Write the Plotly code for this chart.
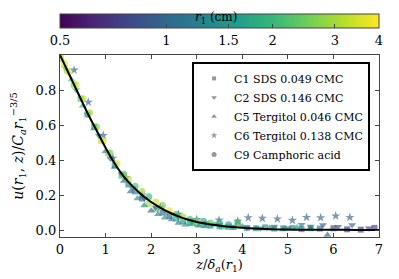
import numpy as np
import plotly.graph_objects as go

# ---------------- data ----------------
curve_z = [0.0, 0.2, 0.4, 0.6, 0.8, 1.0, 1.2, 1.4, 1.6, 1.8, 2.0, 2.2, 2.4, 2.6, 2.8,
           3.0, 3.2, 3.4, 3.6, 3.8, 4.0, 4.5, 5.0, 5.5, 6.0, 6.5, 7.0]
curve_u = [1.0, 0.89, 0.78, 0.67, 0.57, 0.47, 0.38, 0.305, 0.248, 0.2, 0.16, 0.128, 0.1,
           0.078, 0.06, 0.046, 0.036, 0.028, 0.022, 0.017, 0.013, 0.006, 0.003, 0.0015,
           0.001, 0.0005, 0.0]

c1_z = [0.02, 0.15, 0.3, 0.45, 0.6, 0.75, 0.9, 1.05, 1.2, 1.35, 1.5, 1.65, 1.8, 1.95, 2.1,
        2.25, 2.4, 2.55, 2.7, 2.85, 3.0, 3.15, 3.3, 3.5, 3.7, 3.9, 4.1, 4.3, 4.5, 4.7, 4.9,
        5.1, 5.3, 5.5, 5.7, 6.0, 6.3, 6.6, 6.9]
c1_u = [0.99, 0.91, 0.83, 0.75, 0.66, 0.59, 0.51, 0.44, 0.37, 0.31, 0.26, 0.22, 0.18, 0.15,
        0.12, 0.1, 0.08, 0.065, 0.05, 0.04, 0.035, 0.03, 0.025, 0.02, 0.018, 0.03, 0.012,
        0.01, 0.015, 0.008, 0.01, 0.012, 0.005, 0.01, 0.008, 0.01, 0.004, 0.002, 0.012]
c1_r = [3.8, 3.0, 2.6, 2.2, 1.9, 1.6, 3.4, 2.8, 1.4, 2.0, 1.3, 1.2, 1.1, 3.0, 2.5, 1.0, 0.9,
        1.8, 1.5, 1.7, 2.2, 1.4, 1.3, 1.6, 1.9, 2.4, 1.5, 1.7, 1.4, 1.6, 1.3, 1.5, 1.2, 1.8,
        1.1, 0.8, 0.75, 0.7, 0.72]

c2_z = [0.1, 0.35, 0.6, 0.85, 1.1, 1.35, 1.6, 1.85, 2.1, 2.35, 2.6, 2.9, 3.2, 3.5, 3.8, 4.1,
        4.4, 4.7, 5.0, 5.3, 5.5, 5.77, 6.1, 6.41, 6.78]
c2_u = [0.93, 0.8, 0.66, 0.54, 0.41, 0.32, 0.24, 0.18, 0.13, 0.1, 0.075, 0.055, 0.04, 0.03,
        0.02, 0.015, 0.01, 0.02, 0.012, 0.03, 0.02, 0.029, 0.018, 0.029, 0.01]
c2_r = [2.5, 2.0, 1.6, 1.4, 1.2, 1.1, 1.0, 0.95, 0.9, 1.3, 1.2, 1.1, 1.0, 0.9, 1.2, 1.1, 1.0,
        1.2, 1.1, 1.15, 1.1, 0.95, 0.8, 0.95, 0.7]

c5_z = [0.05, 0.25, 0.5, 0.75, 1.0, 1.2, 1.4, 1.55, 1.7, 1.85, 2.0, 2.15, 2.3, 2.45, 2.6,
        2.75, 2.9, 3.05, 3.2, 3.4, 3.6, 3.8, 4.0, 4.3, 4.6, 4.9, 5.2, 5.5, 5.87]
c5_u = [0.97, 0.86, 0.71, 0.58, 0.45, 0.36, 0.28, 0.22, 0.18, 0.14, 0.11, 0.09, 0.07, 0.06,
        0.04, 0.03, 0.035, 0.025, 0.02, 0.03, 0.015, 0.01, 0.02, 0.008, 0.012, 0.005, 0.015,
        0.01, -0.029]
c5_r = [2.8, 2.2, 1.8, 1.5, 1.3, 1.2, 1.1, 1.0, 1.4, 1.25, 0.95, 1.3, 1.5, 1.1, 1.2, 1.4,
        1.7, 1.3, 1.6, 1.5, 1.8, 1.4, 1.3, 1.6, 1.2, 1.5, 1.7, 1.3, 0.95]

c6_z = [0.31, 0.62, 0.95, 1.16, 1.45, 1.8, 2.2, 2.6, 3.0, 3.49, 3.9, 4.13, 4.44, 4.77, 5.1,
        5.41, 5.72, 6.05, 6.36]
c6_u = [0.914, 0.73, 0.54, 0.41, 0.3, 0.2, 0.13, 0.09, 0.06, 0.057, 0.05, 0.07, 0.067, 0.063,
        0.055, 0.072, 0.07, 0.08, 0.072]
c6_r = [0.95, 0.95, 0.95, 0.95, 0.95, 0.95, 0.95, 0.95, 0.95, 0.95, 0.95, 0.95, 0.95, 0.95,
        0.95, 0.95, 0.95, 0.95, 0.95]

c9_z = [0.0, 0.1, 0.2, 0.35, 0.5, 0.65, 0.8, 0.95, 1.1, 1.25, 1.4, 1.5, 1.65, 1.8, 1.95, 2.1,
        2.25, 2.4, 2.55, 2.7, 2.85, 3.0, 3.15, 3.3, 3.5, 3.7, 3.9]
c9_u = [1.0, 0.95, 0.9, 0.83, 0.75, 0.67, 0.59, 0.51, 0.44, 0.38, 0.32, 0.29, 0.25, 0.22,
        0.19, 0.16, 0.14, 0.11, 0.09, 0.075, 0.06, 0.05, 0.05, 0.04, 0.04, 0.03, 0.045]
c9_r = [4.0, 3.8, 3.6, 3.4, 3.2, 3.0, 2.8, 3.5, 2.6, 3.6, 2.4, 3.2, 2.2, 3.0, 2.0, 3.4, 2.6,
        3.8, 2.2, 3.0, 2.0, 2.6, 1.8, 2.4, 2.0, 1.7, 2.2]

series_names = ["C1 SDS 0.049 CMC", "C2 SDS 0.146 CMC", "C5 Tergitol 0.046 CMC",
                "C6 Tergitol 0.138 CMC", "C9 Camphoric acid"]

cbar_vals = [0.5, 1, 1.5, 2, 3, 4]
cbar_text = ["0.5", "1", "1.5", "2", "3", "4"]
x_ticks = [0, 1, 2, 3, 4, 5, 6, 7]
y_ticks = [0.0, 0.2, 0.4, 0.6, 0.8]

# ---------------- figure ----------------
FONT = "DejaVu Serif"
fig = go.Figure()

series = [
    (c1_z, c1_u, c1_r, "square", 6),
    (c2_z, c2_u, c2_r, "triangle-down", 7),
    (c5_z, c5_u, c5_r, "triangle-up", 7),
    (c6_z, c6_u, c6_r, "star", 7),
    (c9_z, c9_u, c9_r, "circle", 7),
]

for (z, u, r, sym, sz), name in zip(series, series_names):
    fig.add_trace(go.Scatter(
        x=z, y=u, mode="markers", showlegend=False,
        marker=dict(symbol=sym, size=sz, color=np.log10(r), coloraxis="coloraxis",
                    opacity=0.65, line=dict(width=0)),
    ))

fig.add_trace(go.Scatter(x=curve_z, y=curve_u, mode="lines", showlegend=False,
                         line=dict(color="black", width=2, shape="spline")))

for (z, u, r, sym, sz), name in zip(series, series_names):
    fig.add_trace(go.Scatter(
        x=[None], y=[None], mode="markers", name=name,
        marker=dict(symbol=sym, size=sz - 2, color="#999999"),
    ))

axis_common = dict(showline=True, linecolor="#444", linewidth=1.2, mirror="ticks",
                   ticks="inside", ticklen=4, tickcolor="#444", showgrid=False,
                   zeroline=False, automargin=False,
                   tickfont=dict(family=FONT, size=13, color="black"))

# page body has an 8px margin: figure is 391x271 and offset accordingly
fig.update_layout(
    width=391, height=271,
    margin=dict(l=52, r=20, t=47, b=42, autoexpand=False),
    paper_bgcolor="white", plot_bgcolor="white",
    font=dict(family=FONT, color="black"),
    xaxis=dict(range=[0, 7], tickvals=x_ticks, ticktext=[str(t) for t in x_ticks],
               title=dict(text="<i>z</i>/<i>δ<sub>a</sub></i>(<i>r</i><sub>1</sub>)",
                          font=dict(family=FONT, size=13), standoff=4),
               **axis_common),
    yaxis=dict(range=[-0.04, 1.0], tickvals=y_ticks, ticktext=[f"{t:.1f}" for t in y_ticks],
               title=dict(text="<i>u</i>(<i>r</i><sub>1</sub>, <i>z</i>)/<i>C<sub>a</sub>r</i><sub>1</sub><sup>−3/5</sup>",
                          font=dict(family=FONT, size=14), standoff=8),
               **axis_common),
    coloraxis=dict(
        colorscale="Viridis", cmin=np.log10(0.5), cmax=np.log10(4),
        colorbar=dict(orientation="h", x=0.5, xanchor="center", y=1.225, yanchor="top",
                      len=1.0, lenmode="fraction", thickness=14, outlinewidth=1,
                      outlinecolor="#444",
                      tickvals=np.log10(cbar_vals), ticktext=cbar_text,
                      ticks="inside", ticklen=4, tickcolor="#444",
                      tickfont=dict(family=FONT, size=13, color="black"),
                      xpad=0, ypad=0),
    ),
    legend=dict(x=0.972, xanchor="right", y=0.962, yanchor="top",
                bgcolor="white", bordercolor="black", borderwidth=2,
                font=dict(family=FONT, size=11, color="black"),
                tracegroupgap=0),
    annotations=[dict(text="<i>r</i><sub>1</sub> (cm)", x=0.49, xref="paper",
                      y=1.203, yref="paper", yanchor="middle", showarrow=False,
                      font=dict(family=FONT, size=12, color="black"))],
)

fig.write_html("out.html")
